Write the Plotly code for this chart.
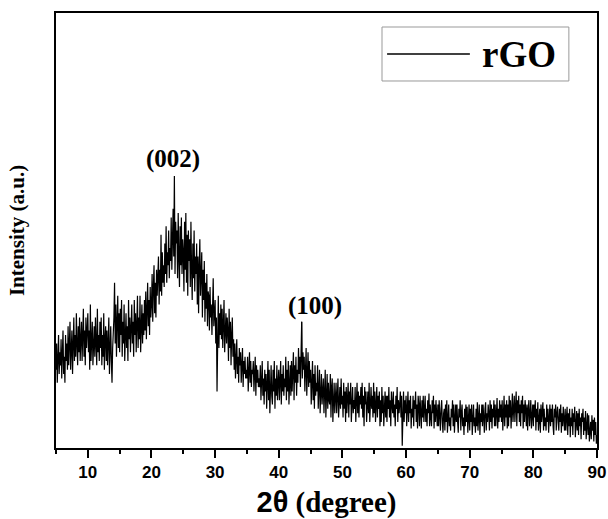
import numpy as np
import plotly.graph_objects as go

# Intensity (a.u.), 0.1 deg sampling; one row per degree, 5-degree segments
seg_05 = [18, 24, 15, 21, 26, 17, 22, 19, 25, 16,
          23, 27, 17, 21, 15, 26, 20, 24, 18, 28,
          19, 25, 29, 18, 23, 27, 17, 22, 30, 20,
          26, 21, 31, 24, 19, 28, 22, 30, 20, 25,
          29, 20, 24, 32, 21, 27, 19, 30, 23, 26]
seg_10 = [31, 22, 27, 18, 33, 20, 25, 29, 19, 24,
          28, 21, 30, 24, 19, 32, 22, 26, 20, 29,
          23, 30, 19, 26, 21, 31, 18, 25, 28, 20,
          27, 19, 24, 30, 17, 22, 28, 20, 15, 23,
          26, 30, 38, 24, 33, 21, 29, 35, 23, 31]
seg_15 = [22, 32, 26, 34, 21, 29, 24, 33, 20, 27,
          31, 23, 28, 20, 34, 25, 30, 22, 27, 33,
          24, 29, 21, 34, 26, 31, 22, 28, 35, 23,
          30, 25, 35, 22, 28, 33, 24, 31, 26, 34,
          27, 36, 25, 32, 38, 28, 34, 26, 37, 30]
seg_20 = [33, 40, 29, 37, 42, 31, 38, 30, 41, 35,
          39, 44, 33, 41, 36, 49, 35, 45, 38, 42,
          37, 47, 40, 51, 38, 45, 42, 50, 39, 46,
          43, 53, 41, 49, 55, 44, 62.5, 40, 52, 47,
          50, 39, 54, 44, 37, 51, 42, 53, 40, 48]
seg_25 = [45, 36, 52, 41, 54, 38, 49, 35, 50, 43,
          48, 37, 52, 41, 34, 47, 39, 50, 36, 44,
          40, 47, 33, 44, 31, 42, 48, 35, 39, 45,
          30, 41, 34, 43, 29, 38, 32, 40, 28, 36,
          35, 27, 37, 30, 33, 26, 36, 39, 28, 31]
seg_30 = [34, 24, 30, 13, 27, 35, 23, 31, 26, 33,
          25, 32, 23, 29, 34, 22, 28, 31, 24, 30,
          27, 20, 32, 23, 29, 19, 26, 30, 21, 25,
          18, 24, 16, 22, 25, 17, 21, 15, 23, 19,
          22, 15, 19, 23, 14, 20, 17, 21, 16, 18]
seg_35 = [16, 21, 13, 19, 22, 15, 20, 14, 18, 17,
          20, 13, 17, 21, 12, 19, 15, 18, 14, 16,
          14, 19, 11, 17, 20, 12, 16, 10, 18, 13,
          17, 9, 15, 20, 11, 18, 8, 14, 19, 12,
          10, 18, 13, 20, 9, 16, 12, 19, 11, 15]
seg_40 = [18, 11, 15, 20, 10, 17, 13, 19, 12, 16,
          14, 21, 11, 18, 13, 20, 10, 17, 19, 12,
          20, 13, 17, 22, 11, 19, 15, 21, 12, 18,
          15, 23, 17, 21, 14, 24, 29, 16, 22, 18,
          21, 13, 19, 23, 12, 17, 22, 14, 20, 15]
seg_45 = [18, 10, 14, 20, 11, 17, 9, 19, 12, 15,
          13, 19, 9, 16, 18, 8, 14, 17, 10, 15,
          16, 8, 12, 18, 7, 14, 17, 9, 15, 11,
          10, 17, 7, 14, 16, 6, 12, 15, 8, 13,
          15, 8, 12, 16, 7, 11, 14, 9, 16, 10]
seg_50 = [12, 7, 15, 9, 13, 6, 14, 8, 11, 15,
          7, 13, 10, 15, 6, 12, 14, 8, 11, 9,
          14, 6, 11, 15, 8, 13, 7, 12, 10, 14,
          9, 15, 7, 12, 5, 14, 10, 13, 6, 11,
          13, 8, 15, 6, 11, 14, 9, 12, 7, 15]
seg_55 = [8, 13, 6, 11, 14, 7, 12, 9, 13, 5,
          11, 6, 14, 8, 12, 5, 10, 13, 7, 12,
          6, 12, 9, 14, 7, 11, 5, 13, 10, 8,
          13, 7, 10, 5, 12, 9, 14, 6, 11, 8,
          10, 13, 7, 12, 0.5, 9, 13, 6, 11, 8]
seg_60 = [12, 5, 10, 13, 6, 11, 8, 12, 4.5, 9,
          7, 12, 5, 11, 9, 13, 6, 10, 4.5, 12,
          10, 5, 12, 8, 4.5, 11, 7, 12, 6, 9,
          12, 6, 9, 5, 11, 8, 12.5, 5, 10, 7,
          5, 11, 8, 12, 4.5, 10, 6, 11, 9, 5]
seg_65 = [10, 5, 11, 7, 4, 9, 11, 6, 3.5, 8,
          9, 4, 10, 6, 11, 3.5, 8, 10, 5, 7,
          4, 9, 7, 11, 5, 10, 3.5, 8, 10, 6,
          10, 6, 3.5, 9, 7, 11, 4, 8, 10, 5,
          7, 3, 9, 5, 10, 6, 9.5, 3.5, 8, 10]
seg_70 = [4, 9, 6, 10, 3, 8, 10, 5, 7, 3.5,
          9, 5, 10.5, 4, 7, 10, 3, 8, 6, 10,
          5, 10, 7, 3.5, 9, 10.5, 4, 8, 6, 10,
          8, 4, 11, 6, 10, 4.5, 9, 7, 11, 5,
          10, 5, 8, 11.5, 4.5, 9, 6, 11, 7, 10]
seg_75 = [6, 11, 4, 9, 12, 5, 10, 7, 11, 4.5,
          10, 5, 12, 7, 11, 4.5, 9, 12.5, 6, 8,
          12, 6, 10, 13, 5, 11, 8, 12, 6, 10,
          5, 11, 8, 12, 4.5, 10, 6, 11, 9, 5,
          10, 4, 9, 11, 5, 8, 11, 4.5, 7, 10]
seg_80 = [5, 10, 7, 11, 4, 9, 6, 10.5, 4, 8,
          9, 3.5, 10, 6, 8, 10.5, 4, 9, 5, 7,
          4, 10, 6, 9, 3.5, 8, 10, 5, 9, 6,
          10, 5, 3, 9, 7, 10, 4, 8, 9.5, 6,
          4, 9, 6, 10, 3.5, 8, 5, 9.5, 7, 4]
seg_85 = [9, 4, 7, 9.5, 3, 8, 5, 9, 2.5, 7,
          5, 9, 3, 8, 6, 9.5, 2.5, 7, 8.5, 4,
          8, 3, 9, 5, 7, 2, 8, 6, 9, 3,
          7, 4, 8.5, 2, 6, 8, 3, 7.5, 1.5, 5,
          6, 2, 7.5, 4, 6.5, 1.5, 7, 3, 6, 1,
          3]

intensity = (seg_05 + seg_10 + seg_15 + seg_20 + seg_25 + seg_30 + seg_35 + seg_40
             + seg_45 + seg_50 + seg_55 + seg_60 + seg_65 + seg_70 + seg_75 + seg_80 + seg_85)

# 2-theta measurement grid (degrees)
theta_start, theta_step = 5.0, 0.1
two_theta = theta_start + theta_step * np.arange(len(intensity))

peak_labels = ["(002)", "(100)"]
peak_theta = [23.6, 43.6]
peak_top = [62.5, 22.0]

x_ticks = [10, 20, 30, 40, 50, 60, 70, 80, 90]
series_name = "rGO"

serif = "Liberation Serif, Times New Roman, serif"
sans = "Liberation Sans, Arial, sans-serif"

fig = go.Figure()
fig.add_trace(go.Scatter(x=two_theta, y=intensity, mode="lines",
                         line=dict(color="black", width=1.2), name=series_name,
                         showlegend=False))

# (002): label just above the spike
fig.add_annotation(x=peak_theta[0], y=peak_top[0], text="<b>" + peak_labels[0] + "</b>",
                   showarrow=False, xanchor="center", yanchor="bottom", xshift=-1, yshift=1,
                   font=dict(family=serif, size=25, color="black"))
# (100): vertical leader line plus label
fig.add_annotation(x=peak_theta[1], y=peak_top[1], text="", showarrow=True, arrowhead=0,
                   arrowwidth=1.2, arrowcolor="black", ax=0, ay=-32, standoff=0)
fig.add_annotation(x=peak_theta[1], y=peak_top[1], text="<b>" + peak_labels[1] + "</b>",
                   showarrow=False, xanchor="center", yanchor="bottom", xshift=13, yshift=30,
                   font=dict(family=serif, size=25, color="black"))

# legend box drawn in paper coordinates
fig.add_shape(type="rect", xref="paper", yref="paper", x0=0.6026, x1=0.948, y0=0.8437, y1=0.9678,
              line=dict(color="#999999", width=1), fillcolor="white", layer="above")
fig.add_shape(type="line", xref="paper", yref="paper", x0=0.612, x1=0.765, y0=0.9057, y1=0.9057,
              line=dict(color="black", width=1.5), layer="above")
fig.add_annotation(xref="paper", yref="paper", x=0.856, y=0.9057, xanchor="center", yanchor="middle",
                   text="<b>" + series_name + "</b>", showarrow=False,
                   font=dict(family=serif, size=37, color="black"))

fig.update_layout(
    width=608, height=519,
    margin=dict(l=56, r=11, t=13, b=71),
    paper_bgcolor="white", plot_bgcolor="white",
    showlegend=False,
)
fig.update_xaxes(
    range=[5, 90], tickvals=x_ticks, ticks="outside", ticklen=8, tickwidth=1.5, tickcolor="black",
    minor=dict(dtick=5, tick0=5, ticks="outside", ticklen=4, tickwidth=1.5, tickcolor="black"),
    showline=True, linecolor="black", linewidth=1.5, mirror=True, showgrid=False, zeroline=False,
    automargin=False,
    tickfont=dict(family=sans, size=17, color="black", weight="bold"),
    title=dict(text="<span style='font-family:Liberation Sans'>2θ</span> (degree)",
               font=dict(family=serif, size=29, color="black", weight="bold"), standoff=11),
)
fig.update_yaxes(
    range=[0, 100], showticklabels=False, ticks="", automargin=False,
    showline=True, linecolor="black", linewidth=1.5, mirror=True, showgrid=False, zeroline=False,
    title=dict(text="Intensity (a.u.)", font=dict(family=serif, size=21, color="black", weight="bold"),
               standoff=24),
)

fig.write_html("out.html")
